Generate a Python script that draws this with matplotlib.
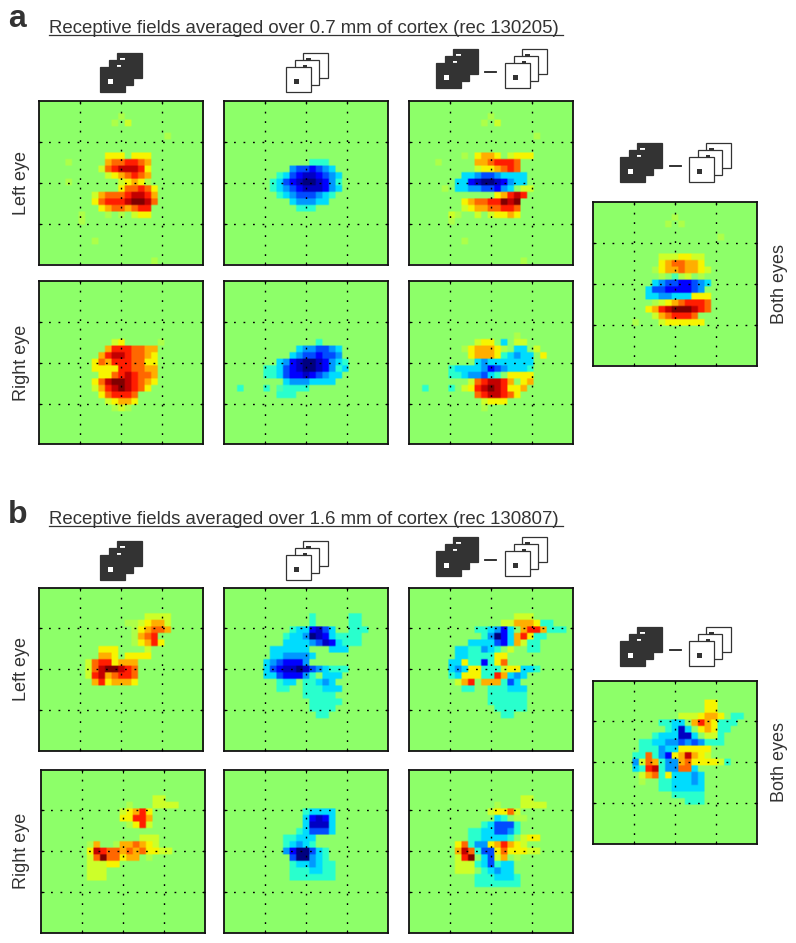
import numpy as np
import matplotlib
matplotlib.use('Agg')
import matplotlib.pyplot as plt
import matplotlib.patches as patch

plt.rcParams['font.family'] = ['Liberation Sans', 'DejaVu Sans']

W, H = 796, 943
INK = '#333333'

# Receptive field maps, 25 x 25 cells, one string per row.
# '.' = background, 1..8 = rising ON response, a..h = rising OFF response.
# Short rows are padded with background.
a_left_black = [
    '', '',
    '............1',
    '...........1.2',
    '',
    '...................1',
    '', '',
    '..........333.333',
    '....1.....4556654',
    '.........25677763',
    '..........2345654',
    '....1.......23431',
    '............355653',
    '........2455567764',
    '........3566678875',
    '.........34554566',
    '......1...1.1.233',
    '......1',
    '', '',
    '........1',
    '', '',
    '.................1',
]
a_left_white = [
    '', '', '', '', '', '', '', '', '',
    '.............bbb',
    '..........deefedc',
    '........bcefggfedc',
    '.......bcefghhgfdb',
    '.......bcdefgggfdc',
    '........bcdeeedcb',
    '..........cdddcc',
    '...........bbb',
]
a_left_diff = [
    '', '',
    '............1',
    '...........1.2',
    '',
    '...................1',
    '', '',
    '........1.3443.2333',
    '....1.....4456665',
    '..........2334565',
    '........ccdeedcccc',
    '.......ccfghhgfdcc',
    '.....1.ccddeefdc.22',
    '.............34676',
    '........345566878',
    '........234455665',
    '......21..2.23343',
    '......1',
    '', '',
    '........1',
    '', '',
    '.................1',
]
a_right_black = [
    '', '', '', '', '', '', '', '', '',
    '...........23.....1',
    '..........46665544',
    '.........467765543',
    '........3546665533',
    '........3333665544',
    '.........335676554',
    '........3578876543',
    '........246787653',
    '.........356665',
    '..........23443',
    '...........121',
]
a_right_white = [
    '', '', '', '', '', '', '', '', '',
    '..............b',
    '...........cddeedc',
    '..........cdeefeed',
    '........cdfghhgfdcb',
    '......bbcefghhgfdbc',
    '......bbceffgfedcc',
    '.........cdddcccc',
    '..b...b.abbbb',
    '........bbb',
]
a_right_diff = [
    '', '', '', '', '', '', '', '',
    '................1',
    '..........233.c.22',
    '........1344431.cc.2',
    '.........34443bcdcc.3',
    '..........cdccccccc',
    '......bccccdfedcccb',
    '......bbcddecb.3333',
    '.........2567764.34',
    '..b...b.2367876334',
    '..........5677653',
    '...........2333',
    '...........1',
]
a_both = [
    '', '',
    '............1',
    '...........1.1',
    '',
    '...................1',
    '', '',
    '..........2223322',
    '..........3455443',
    '.........134454432',
    '..........1.a12.1',
    '.........cdeeffedc',
    '........ceeffffed',
    '........ccddccc333',
    '.........123456665',
    '........3467888765',
    '.........2456665',
    '......1...2333333',
]
b_left_black = [
    '', '', '', '',
    '................2222',
    '.............1123442',
    '..............134554',
    '..............1456',
    '..............13463',
    '.........333....2',
    '.........443.3333',
    '.......25663444',
    '.......25788765',
    '.......26745665',
    '........4634443',
]
b_left_white = [
    '', '', '', '',
    '.............b.....bb',
    '.............b.....bb',
    '..........bccfgec..bbb',
    '.........bccdhgfcbbbb',
    '.........ccccdegfcbbb',
    '.......cccccc...ccc',
    '.......ccddddc',
    '......cdefffd',
    '......cefgghgedcbbb',
    '......ccefffdb.ccc',
    '........bcc.bbcdc',
    '........bb..bbbccc',
    '............bbbbb',
    '.............bbbbb',
    '.............bbbb',
    '..............bb',
]
b_left_diff = [
    '', '', '', '',
    '................222',
    '..............224443bb',
    '..........bbcdfc.4664bbb',
    '...........bdhfc463bb',
    '.........ccccefc42bb',
    '.......ccbbdcb.2..bb',
    '.......ccbbbb33',
    '......cc3bbfb35',
    '......cdc33bbb233ccb',
    '......bc333bb64cdc',
    '.......246.444bec',
    '........bb..bbbccc',
    '............bbbbbb',
    '............bbbbbb',
    '.............bbbbb',
    '..............bb',
]
b_right_black = [
    '', '', '', '',
    '.................22',
    '.............1...2222',
    '............23463',
    '............33664',
    '.............1362',
    '',
    '...............222',
    '.......14..1445432',
    '.......3765545453322',
    '.......25855344.1',
    '.......22233',
    '.......222',
    '.......222',
]
b_right_white = [
    '', '', '', '', '', '',
    '............bcccc',
    '............cfgfc',
    '............cgggc',
    '...........bceeec',
    '.........bbccc',
    '.........bcdcb',
    '.........dfhhecb',
    '..........ehhdcb',
    '..........bccdcbb',
    '..........bbbccbb',
    '..........bbbbbbb',
]
b_right_diff = [
    '', '', '', '',
    '.................22',
    '.............1...2222',
    '............23352',
    '.............cb.11',
    '...........bceeeb',
    '.........bbcceedb',
    '.........bbccccb.233',
    '.......35bdd346432',
    '.......475bee3533322',
    '.......268.ce24.1',
    '.......222bcebcc',
    '.......222.bcdcc',
    '..........bbbcccb',
    '..........bbbbbbb',
]
b_both = [
    '', '', '',
    '.................33',
    '.................33',
    '.............2223443.bb',
    '..........bbcc.4643bbb',
    '...........bcgc.343bb',
    '.........bcccggc.22b',
    '.......bbccddededbbb',
    '.......bbbdcc33333',
    '......bb5bdf347432',
    '......d254bdd4533332b',
    '......cb67bdd55c',
    '.......245b3cccdc',
    '.......1..bbcccdc',
    '..........bbccccc',
    '............bbbbb',
    '..............bbb',
]

levels = {'.': 0.04}
for ch, v in zip('12345678', [0.12, 0.2, 0.3, 0.45, 0.6, 0.75, 0.88, 1.0]):
    levels[ch] = v
for ch, v in zip('abcdefgh', [0.12, 0.2, 0.32, 0.45, 0.6, 0.75, 0.88, 1.0]):
    levels[ch] = -v


def decode(rows):
    rows = rows + [''] * (25 - len(rows))
    return np.array([[levels[c] for c in r.ljust(25, '.')] for r in rows])


def px_axes(x0, y0, x1, y1):
    return fig.add_axes([x0 / W, 1 - y1 / H, (x1 - x0) / W, (y1 - y0) / H])


def draw_map(rows, x0, y0):
    ax = px_axes(x0, y0, x0 + 164, y0 + 163.5)
    # cells are repeated so the bilinear step only softens their edges
    z = np.repeat(np.repeat(decode(rows), 4, axis=0), 4, axis=1)
    ax.imshow(z, cmap='jet', vmin=-1, vmax=1, extent=[0, 25, 25, 0],
              interpolation='bilinear', aspect='auto')
    ax.set_xticks([6.25, 12.5, 18.75])
    ax.set_yticks([6.25, 12.5, 18.75])
    ax.tick_params(direction='in', length=2, width=0.8, top=True, right=True,
                   labelbottom=False, labelleft=False)
    ax.grid(True, color='black', lw=1.0, ls=(0, (1.3, 5.54)))
    ax.set_axisbelow(False)
    for s in ax.spines.values():
        s.set_linewidth(1.3)
        s.set_color('#111111')


def draw_icon(x, y, filled):
    # three stacked frames, each with a small probe square
    frames = [(17, 0), (8.5, 7), (0, 14)]
    probes = [(3, 4.5, 5, 2), (8.5, 4.5, 4, 5.5), (8, 12, 5, 5)]
    for (dx, dy), (px, py, pw, ph) in zip(frames, probes):
        face = INK if filled else 'white'
        mark = 'white' if filled else INK
        canvas.add_patch(patch.Rectangle((x + dx, y + dy), 24.5, 24.5, fc=face, ec=INK, lw=0.9))
        canvas.add_patch(patch.Rectangle((x + dx + px, y + dy + py), pw, ph, fc=mark, ec='none'))


def draw_pair(x_black, x_white, x_dash, y):
    draw_icon(x_black, y, True)
    draw_icon(x_white, y, False)
    canvas.plot([x_dash, x_dash + 11], [y + 23, y + 23], color='#222222', lw=1.3)


fig = plt.figure(figsize=(W / 100, H / 100), dpi=100)
canvas = fig.add_axes([0, 0, 1, 1])
canvas.set_xlim(0, W)
canvas.set_ylim(H, 0)
canvas.axis('off')

# Panels
draw_map(a_left_black, 39, 101)
draw_map(a_left_white, 224, 101)
draw_map(a_left_diff, 409, 101)
draw_map(a_right_black, 39, 281)
draw_map(a_right_white, 224, 281)
draw_map(a_right_diff, 409, 281)
draw_map(a_both, 593, 202)
draw_map(b_left_black, 39, 587.5)
draw_map(b_left_white, 224, 587.5)
draw_map(b_left_diff, 409, 587.5)
draw_map(b_right_black, 41, 769.5)
draw_map(b_right_white, 224, 769.5)
draw_map(b_right_diff, 409, 769.5)
draw_map(b_both, 593, 680.5)

# Stimulus icons
draw_icon(100, 53, True)
draw_icon(286, 53, False)
draw_pair(436, 505, 485, 49)
draw_pair(620, 689, 670, 143)
draw_icon(100, 541, True)
draw_icon(286, 541, False)
draw_pair(436, 505, 485, 537)
draw_pair(620, 689, 670, 627)

# Text
titles = ['Receptive fields averaged over 0.7 mm of cortex (rec 130205)',
          'Receptive fields averaged over 1.6 mm of cortex (rec 130807)']
for letter, title, y, y_letter in zip('ab', titles, [33, 524], [27, 523]):
    canvas.text(8, y_letter, letter, fontsize=23, fontweight='bold', color=INK, va='baseline')
    canvas.text(49, y, title, fontsize=13.46, color=INK, va='baseline')
    canvas.plot([49, 563], [y + 1.5, y + 1.5], color=INK, lw=0.9)

eye_labels = [('Left eye', 22, 183), ('Right eye', 22, 363), ('Both eyes', 779, 284),
              ('Left eye', 22, 669), ('Right eye', 22, 851), ('Both eyes', 779, 762)]
for label, x, y in eye_labels:
    canvas.text(x, y, label, fontsize=13, color=INK, rotation=90, ha='center', va='center')

fig.savefig('out.png', dpi=100)
